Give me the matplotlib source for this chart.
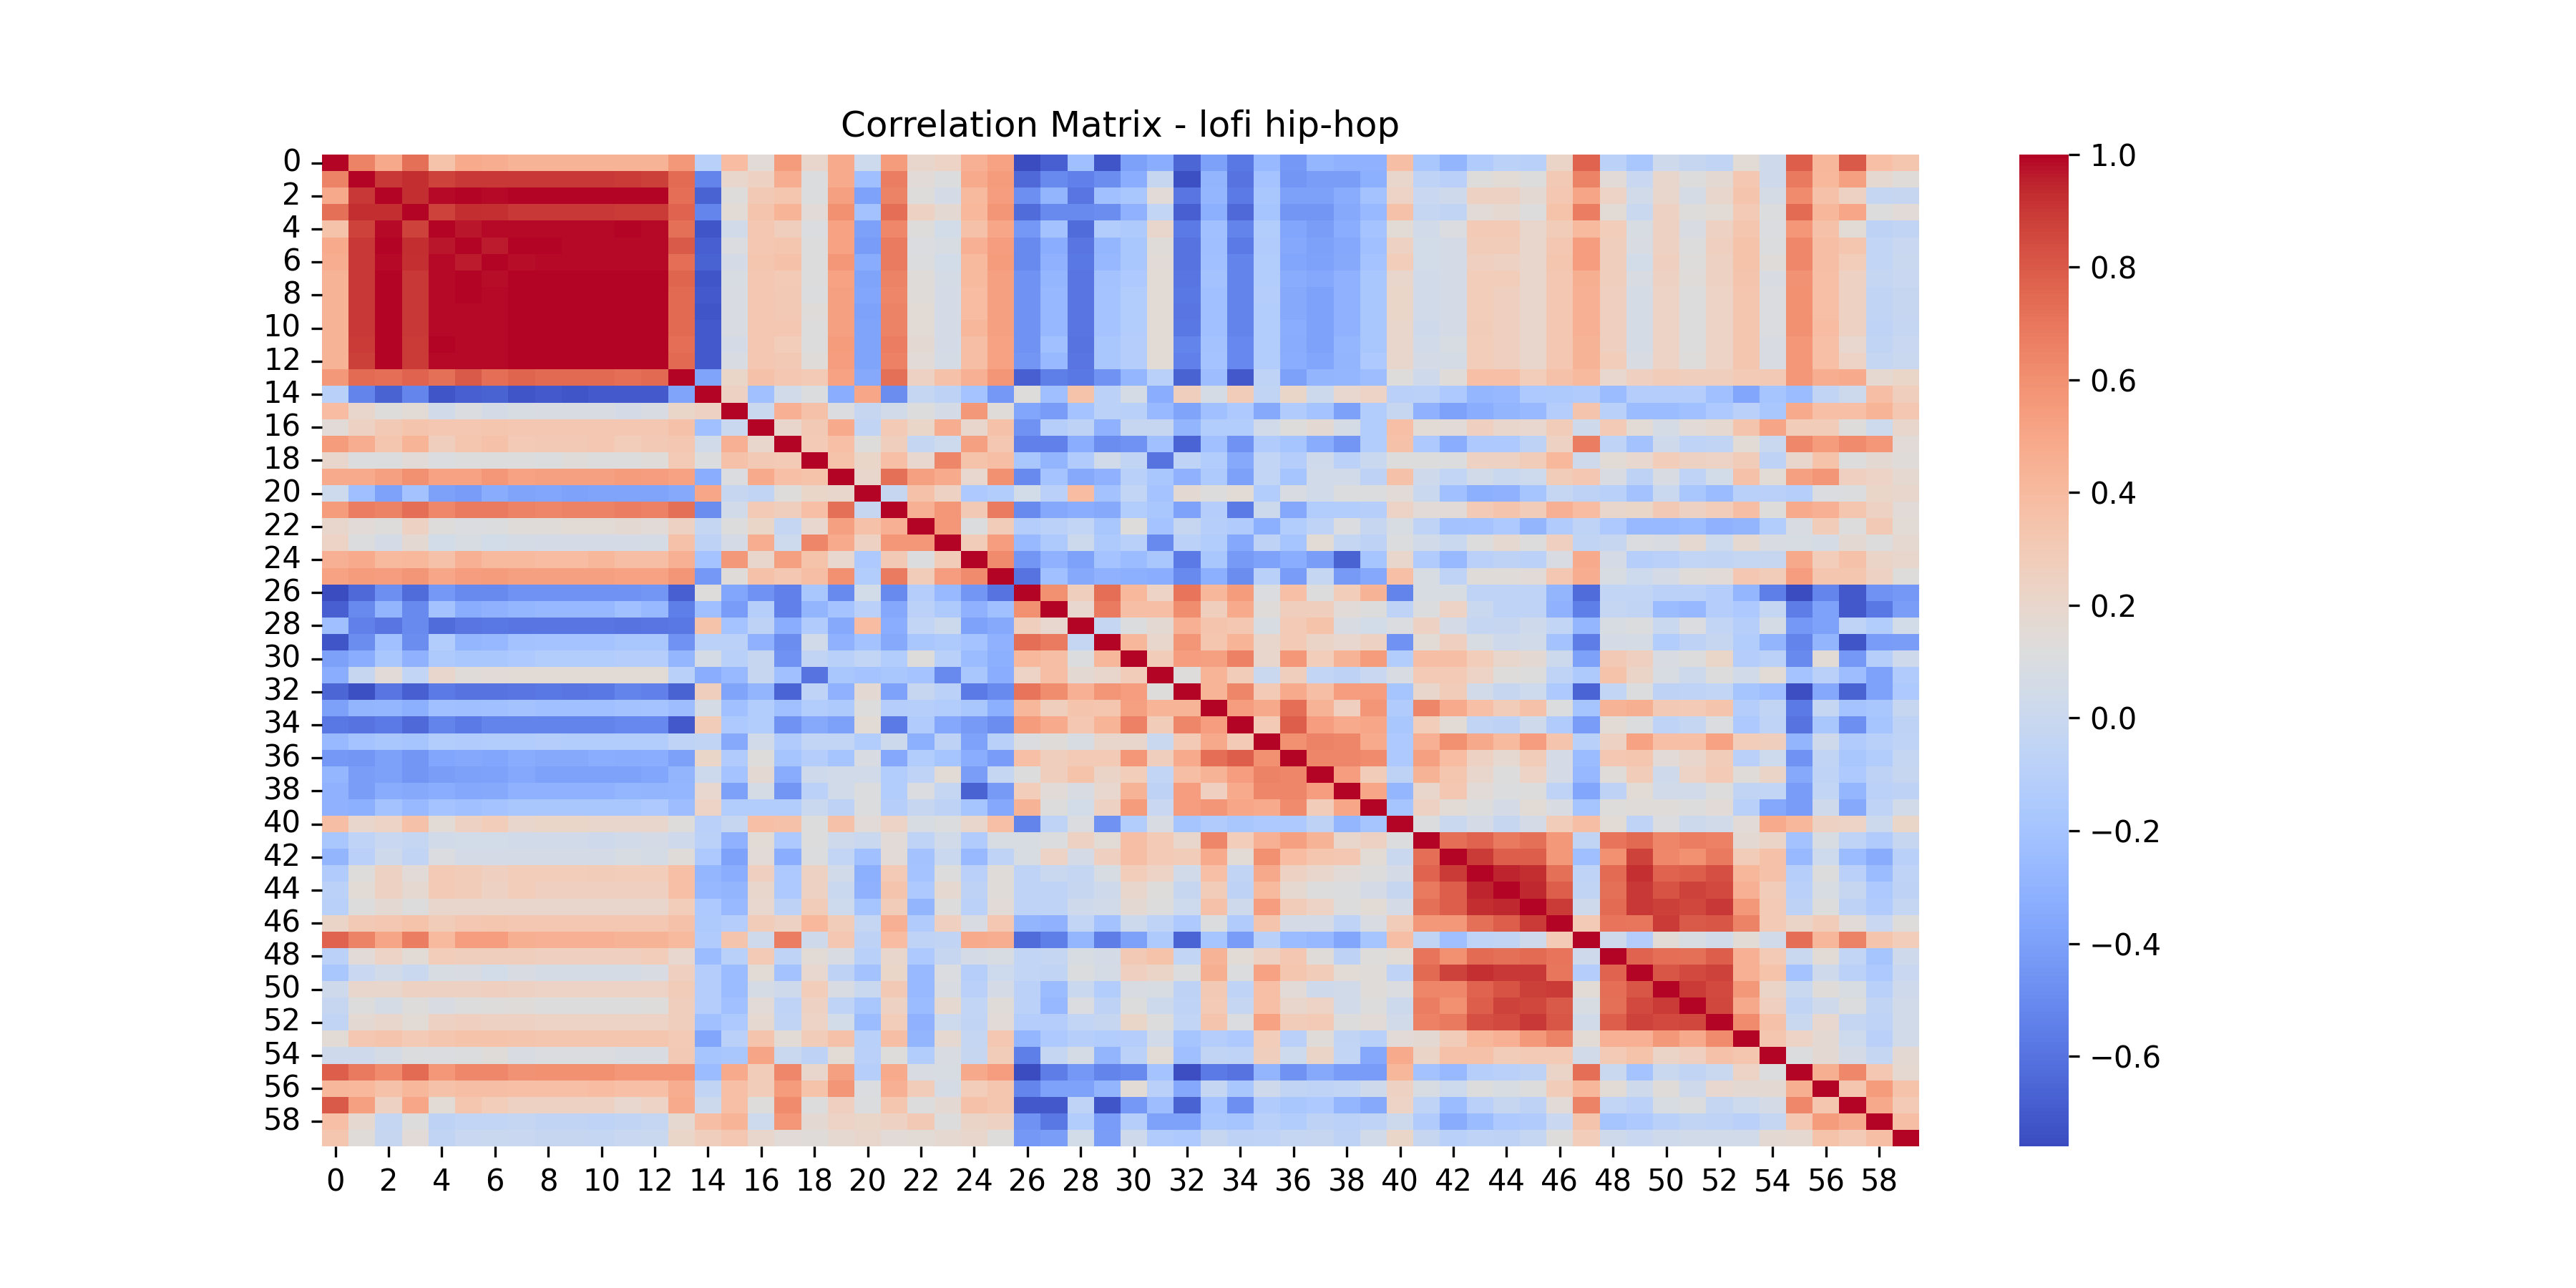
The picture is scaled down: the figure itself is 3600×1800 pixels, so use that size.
"""Correlation heatmap of audio features for one genre."""

import matplotlib

matplotlib.use("Agg")

import matplotlib.pyplot as plt
import numpy as np
import pandas as pd
import seaborn as sns

GENRE = "lofi hip-hop"

# upper triangle of the correlation matrix, in hundredths, one list per row
r00 = [65, 49, 72, 35, 48, 47, 44, 44, 44, 44,
       44, 44, 56, -10, 39, 15, 55, 20, 48, 2,
       55, 20, 23, 45, 52, -76, -68, -23, -72, -40,
       -33, -65, -40, -58, -26, -44, -28, -30, -30, 38,
       -18, -29, -14, -8, -10, 22, 77, -8, -17, 3,
       -2, -5, 16, 3, 78, 42, 80, 37, 33]
r01 = [90, 93, 87, 90, 90, 90, 90, 90, 90,
       89, 88, 74, -53, 20, 24, 47, 11, 48, -23,
       67, 15, 11, 48, 55, -64, -50, -54, -49, -33,
       -2, -74, -29, -60, -20, -45, -41, -41, -32, 20,
       -6, -9, 13, 16, 12, 31, 65, 15, -1, 20,
       12, 17, 32, 3, 69, 41, 53, 18, 14]
r02 = [93, 99, 100, 99, 100, 100, 100, 100,
       100, 100, 73, -67, 13, 31, 33, 11, 53, -39,
       65, 13, 6, 40, 54, -48, -29, -59, -22, -17,
       15, -59, -28, -57, -17, -40, -40, -34, -21, 23,
       -1, 3, 25, 25, 17, 32, 51, 23, 4, 20,
       7, 20, 34, 7, 62, 36, 24, -3, -2]
r03 = [87, 93, 92, 90, 90, 90, 90,
       89, 89, 77, -52, 16, 34, 43, 15, 60, -21,
       73, 24, 17, 41, 58, -63, -50, -50, -49, -30,
       -4, -68, -32, -64, -19, -45, -45, -35, -26, 36,
       -3, -5, 15, 18, 12, 35, 67, 16, 0, 25,
       13, 16, 30, 11, 74, 42, 50, 12, 15]
r04 = [97, 99, 99, 99, 99, 99,
       100, 99, 72, -72, 4, 32, 27, 10, 52, -40,
       63, 13, 5, 36, 50, -44, -21, -63, -13, -15,
       20, -57, -22, -53, -13, -37, -41, -33, -20, 16,
       4, 10, 30, 30, 20, 29, 40, 28, 8, 24,
       9, 25, 33, 10, 57, 36, 16, -7, -5]
r05 = [96, 100, 100, 99, 99,
       99, 99, 80, -68, 10, 32, 33, 12, 52, -42,
       68, 10, 8, 45, 54, -50, -33, -59, -28, -18,
       14, -60, -23, -57, -14, -36, -40, -36, -22, 25,
       5, 6, 29, 29, 20, 32, 54, 27, 9, 25,
       12, 26, 35, 11, 63, 38, 33, -4, -1]
r06 = [98, 99, 99, 99,
       99, 99, 73, -67, 6, 33, 36, 12, 57, -34,
       68, 11, 5, 40, 55, -50, -30, -58, -27, -17,
       15, -60, -22, -53, -13, -37, -39, -35, -20, 28,
       5, 6, 26, 24, 20, 33, 54, 27, 5, 26,
       13, 24, 35, 14, 63, 38, 28, -4, 0]
r07 = [100, 100, 100,
       100, 100, 76, -72, 8, 32, 30, 12, 52, -38,
       65, 14, 7, 40, 53, -47, -28, -59, -21, -16,
       16, -59, -21, -53, -13, -34, -36, -31, -18, 20,
       4, 6, 28, 28, 20, 32, 46, 27, 9, 24,
       14, 25, 34, 9, 59, 37, 24, -3, -1]
r08 = [100, 100,
       100, 100, 75, -70, 9, 32, 31, 11, 53, -37,
       64, 14, 6, 39, 53, -46, -27, -59, -20, -13,
       16, -58, -22, -53, -12, -35, -39, -31, -17, 21,
       4, 6, 28, 26, 20, 32, 45, 26, 7, 23,
       12, 23, 33, 10, 60, 37, 25, -5, -2]
r09 = [100,
       100, 100, 75, -72, 9, 32, 31, 14, 53, -39,
       65, 16, 6, 39, 53, -46, -27, -59, -20, -13,
       16, -59, -22, -53, -13, -35, -39, -31, -17, 21,
       4, 6, 28, 26, 20, 32, 45, 26, 7, 23,
       12, 23, 33, 10, 60, 37, 25, -5, -2]
r10 = [100, 100, 75, -70, 9, 32, 32, 12, 53, -38,
       65, 16, 6, 42, 53, -46, -27, -59, -20, -13,
       16, -58, -22, -53, -13, -33, -39, -31, -17, 20,
       3, 6, 29, 26, 20, 32, 45, 26, 7, 23,
       12, 23, 33, 10, 60, 39, 24, -6, -3]
r11 = [100, 73, -70, 6, 32, 28, 12, 55, -38,
       67, 17, 6, 38, 52, -46, -22, -60, -18, -12,
       16, -53, -21, -51, -13, -34, -39, -28, -17, 20,
       4, 8, 28, 26, 20, 32, 44, 26, 7, 23,
       12, 23, 33, 9, 57, 37, 19, -5, -1]
r12 = [75, -70, 9, 32, 31, 14, 54, -38,
       66, 15, 7, 38, 52, -45, -26, -59, -18, -12,
       16, -54, -20, -51, -13, -33, -37, -29, -16, 20,
       6, 7, 28, 26, 20, 32, 44, 28, 9, 23,
       13, 23, 33, 9, 57, 37, 23, -3, 0]
r13 = [-38, 21, 36, 32, 30, 52, -35,
       72, 24, 36, 45, 58, -68, -55, -58, -46, -28,
       -10, -67, -24, -71, -6, -40, -29, -28, -24, 13,
       3, 14, 37, 37, 28, 36, 40, 19, 26, 29,
       27, 27, 30, 31, 57, 47, 48, 18, 21]
r14 = [25, -22, 4, 11, -33, 50,
       -49, -3, -7, -20, -44, 13, -23, 35, -8, 7,
       -33, 27, 7, 29, -5, 21, 1, 19, 23, -9,
       -8, -16, -28, -27, -16, -15, -14, -25, -12, -12,
       -12, -22, -37, -19, -25, -5, 1, 38, 27]
r15 = [0, 45, 36, 10, -2,
       4, 12, 6, 56, 14, -37, -42, -20, -8, -10,
       -26, -38, -22, -16, -35, -14, -20, -40, -13, -2,
       -30, -39, -33, -29, -26, -12, 34, -10, -25, -25,
       -22, -16, -9, -18, 48, 37, 37, 43, 32]
r16 = [20, 31, 48, -5,
       30, 21, 47, 20, 36, -46, -11, -7, -30, -2,
       -2, -29, -13, -13, 4, 13, 17, 7, -13, 37,
       16, 15, 26, 20, 19, 29, 3, 30, 16, 7,
       15, 18, 34, 51, 29, 29, 13, 2, 20]
r17 = [30, 37, 13,
       27, -3, 2, 53, 32, -54, -54, -33, -49, -46,
       -22, -66, -22, -46, -14, -19, -34, -45, -13, 36,
       -16, -33, -16, -16, -7, 24, 67, -6, -21, 3,
       -6, -5, 16, 0, 63, 55, 62, 57, 15]
r18 = [35, 21,
       37, 19, 64, 35, 38, -17, -29, -14, 4, -5,
       -60, -6, -13, -35, -4, -12, 3, -8, 0, 12,
       12, 11, 24, 24, 29, 41, 3, 16, 19, 28,
       25, 23, 29, -7, 20, 35, 12, 17, 14]
r19 = [20,
       72, 53, 48, 19, 60, -50, -20, -35, -31, -10,
       -17, -30, -15, -40, -4, -19, 4, 4, -7, 36,
       3, -4, 4, 0, 2, 29, 32, 9, -7, 9,
       -6, 5, 36, 16, 53, 58, 26, 23, 18]
r20 = [-2, 36, 24, -16, -13, 5, -9, 39, -21, -4,
       -20, 17, 12, 16, -13, 9, 4, 11, 11, 15,
       0, -22, -32, -30, -19, -3, -7, -10, -21, 0,
       -18, -25, -10, -9, -11, 10, 11, 21, 20]
r21 = [45, 57, 31, 68, -50, -36, -33, -35, -13,
       -18, -39, -12, -57, 1, -36, -13, -13, -11, 23,
       15, 15, 30, 34, 29, 45, 39, 20, 21, 31,
       25, 28, 38, 13, 48, 45, 33, 24, 15]
r22 = [57, 11, 29, -12, -8, -4, -17, 13,
       -20, -2, -11, -14, -32, -13, -6, 10, -2, 8,
       -6, -21, -20, -16, -29, -14, -6, -16, -26, -26,
       -25, -30, -29, -13, 9, 29, 12, 31, 16]
r23 = [29, 54, -26, -15, 1, -15, -10,
       -50, -8, -13, -36, -7, -19, 16, -3, -7, 11,
       4, 0, 12, 18, 12, 26, -5, -2, 10, 9,
       18, 2, 18, 9, 8, 7, 17, 12, 18]
r24 = [62, -45, -31, -39, -20, -25,
       -18, -57, -18, -43, -39, -33, -41, -67, -19, 20,
       -14, -26, -9, -7, -8, 9, 48, 6, -11, -9,
       -4, -5, -3, -2, 49, 28, 36, 22, 20]
r25 = [-60, -22, -35, -30, -32,
       -33, -50, -32, -49, -10, -42, -3, -43, -36, 37,
       8, -6, 14, 14, 15, 32, 47, 8, 2, 6,
       14, 15, 32, 29, 54, 33, 33, 24, 13]
r26 = [60, 27, 73, 41,
       23, 71, 42, 55, 10, 37, 12, 28, 44, -53,
       8, 8, -6, -6, -6, -29, -63, -4, -4, -8,
       -8, -12, -28, -55, -76, -52, -71, -46, -44]
r27 = [19, 68, 38,
       38, 61, 27, 48, 14, 27, 27, 15, 12, -6,
       11, 23, 0, -6, -6, -30, -55, -3, -5, -25,
       -27, -12, -16, -3, -56, -39, -71, -58, -41]
r28 = [-3, 11,
       17, 45, 34, 32, 8, 30, 35, 9, 5, 10,
       25, 6, -3, -2, 3, -4, -28, 8, 11, 0,
       10, -4, -11, 7, -44, -39, -6, -13, 5]
r29 = [42,
       20, 58, 33, 43, 20, 30, 22, 19, 24, -47,
       16, 26, 8, 3, 4, -21, -56, 6, 7, -13,
       -7, -2, -13, -29, -53, -29, -72, -42, -41]
r30 = [29, 54, 53, 66, 20, 57, 28, 44, 55, -13,
       38, 38, 28, 20, 17, 1, -40, 31, 26, 9,
       12, 21, -12, -8, -50, 16, -44, -11, 3]
r31 = [13, 43, 29, 0, 27, -4, -7, -1, 9,
       30, 30, 23, 13, 12, -6, -15, 35, 22, 8,
       1, 12, 4, 16, -20, -9, -24, -39, -14]
r32 = [43, 64, 30, 48, 38, 54, 54, -19,
       20, 29, 4, -2, 2, -16, -66, -4, 11, -7,
       -6, -4, -19, -23, -75, -36, -67, -39, -16]
r33 = [54, 49, 73, 44, 26, 58, -14,
       64, 48, 37, 29, 36, 11, -19, 44, 46, 31,
       30, 34, -12, -5, -57, -3, -20, -17, -2]
r34 = [30, 78, 54, 48, 50, -17,
       28, 16, -5, -7, 3, -14, -42, 16, 11, -6,
       -3, 10, -16, -6, -60, -18, -48, -19, -7]
r35 = [60, 65, 64, 48, -16,
       45, 60, 49, 40, 54, 34, -10, 25, 52, 37,
       37, 52, 28, 27, -29, 3, -14, -10, -6]
r36 = [64, 64, 62, -16,
       53, 39, 24, 18, 29, 6, -25, 32, 33, 15,
       20, 29, -9, 2, -46, -5, -18, -13, -3]
r37 = [54, 29, -7,
       44, 33, 20, 12, 23, 6, -27, 14, 29, 3,
       23, 30, 14, 22, -35, -6, -16, -7, -2]
r38 = [50, -28,
       20, 32, 15, 11, 12, -6, -37, -7, 16, 4,
       4, 12, -5, -4, -42, -4, -28, -8, -7]
r39 = [-19,
       25, 16, 12, 6, 16, 9, -19, 13, 14, 14,
       12, 15, -10, -36, -42, 3, -35, -6, 4]
r40 = [11, 0, 6, -2, 6, 29, 38, 16, -6, 10,
       1, 4, 15, 48, 42, 24, 23, 1, 21]
r41 = [73, 77, 69, 72, 56, -5, 71, 75, 64,
       67, 66, 17, 22, -21, 8, -6, -14, -2]
r42 = [89, 78, 78, 56, -23, 60, 87, 63,
       60, 69, 29, 36, -26, 2, -25, -34, -10]
r43 = [95, 93, 72, -6, 74, 92, 77,
       78, 83, 42, 36, -11, 12, -9, -25, -6]
r44 = [94, 78, -5, 72, 90, 82,
       87, 85, 45, 29, -9, 8, -2, -16, -7]
r45 = [89, 3, 74, 90, 88,
       86, 90, 56, 30, -7, 12, -7, -14, -3]
r46 = [30, 71, 70, 89,
       80, 81, 65, 30, 22, 29, 15, -1, 13]
r47 = [3, -12, 16,
       8, 4, 16, 4, 73, 42, 65, 34, 28]
r48 = [77, 73,
       72, 78, 45, 30, 0, 16, -4, -19, 3]
r49 = [81,
       85, 87, 45, 35, -20, 3, -8, -16, -1]
r50 = [89, 85, 56, 22, 0, 14, 8, -10, 3]
r51 = [86, 49, 26, -5, 3, 11, -5, 4]
r52 = [62, 36, 0, 19, -3, -6, 4]
r53 = [33, 23, 17, 2, -9, 4]
r54 = [11, 17, 6, -3, 17]
r55 = [46, 63, 32, 18]
r56 = [33, 55, 35]
r57 = [49, 30]
r58 = [38]

upper_rows = [
    r00, r01, r02, r03, r04, r05, r06, r07, r08, r09,
    r10, r11, r12, r13, r14, r15, r16, r17, r18, r19,
    r20, r21, r22, r23, r24, r25, r26, r27, r28, r29,
    r30, r31, r32, r33, r34, r35, r36, r37, r38, r39,
    r40, r41, r42, r43, r44, r45, r46, r47, r48, r49,
    r50, r51, r52, r53, r54, r55, r56, r57, r58,
]


def build_matrix(rows: list[list[int]]) -> pd.DataFrame:
    """Mirror the upper triangle into a full symmetric correlation table."""
    size = len(rows) + 1
    corr = np.eye(size)
    for i, row in enumerate(rows):
        if len(row) != size - i - 1:
            raise ValueError(f"Row {i} has {len(row)} values")
        corr[i, i + 1:] = np.array(row) / 100
        corr[i + 1:, i] = corr[i, i + 1:]
    return pd.DataFrame(corr)


corr = build_matrix(upper_rows)

fig, ax = plt.subplots(figsize=(12, 6))
sns.heatmap(corr, cmap="coolwarm", ax=ax)
ax.set_title(f"Correlation Matrix - {GENRE}")
fig.savefig("out.png", dpi=300)
plt.close(fig)
